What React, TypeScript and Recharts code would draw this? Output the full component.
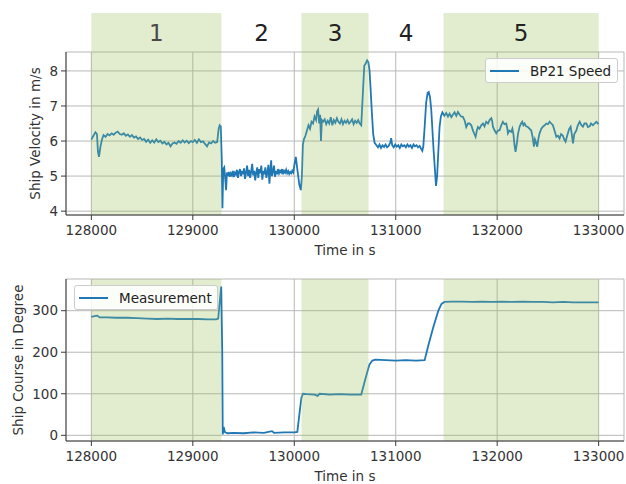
import React from 'react';
import {
  LineChart, Line, XAxis, YAxis, CartesianGrid, ReferenceArea, Legend,
} from 'recharts';

// ---- Data: ship velocity (time in s, m/s) ----
const velPhase1: [number, number][] = [
  [128000, 6.04], [128020, 6.15], [128040, 6.25], [128055, 6.2], [128065, 5.7], [128075, 5.55],
  [128090, 5.85], [128105, 6.05], [128120, 6.17], [128140, 6.12], [128160, 6.2], [128180, 6.16],
  [128200, 6.22], [128220, 6.18], [128240, 6.24], [128260, 6.27], [128280, 6.2], [128300, 6.18],
  [128320, 6.22], [128340, 6.15], [128360, 6.19], [128380, 6.12], [128400, 6.17], [128420, 6.1],
  [128440, 6.13], [128460, 6.06], [128480, 6.1], [128500, 6.03], [128520, 6.06], [128540, 5.98],
  [128560, 6.04], [128580, 5.95], [128600, 6.02], [128620, 5.96], [128640, 6.05], [128660, 5.97],
  [128680, 6.01], [128700, 5.93], [128720, 5.98], [128740, 5.9], [128760, 5.95], [128780, 5.85],
  [128800, 5.93], [128820, 5.96], [128840, 5.92], [128860, 6.0], [128880, 5.95], [128900, 6.02],
  [128920, 5.96], [128940, 6.01], [128960, 5.94], [128980, 6.0], [129000, 5.97], [129020, 6.03],
  [129040, 5.95], [129060, 6.05], [129080, 5.97], [129100, 5.99], [129120, 5.92], [129140, 5.85],
  [129160, 5.96], [129180, 5.93], [129200, 6.0], [129220, 5.95], [129240, 5.97], [129255, 6.35],
  [129265, 6.45], [129275, 6.42], [129285, 5.5], [129292, 4.08],
];
const velPhase2: [number, number][] = [
  [129300, 5.2], [129310, 5.25], [129320, 4.9], [129328, 4.6], [129336, 5.1], [129345, 5.0],
  [129355, 5.12], [129365, 4.98], [129375, 5.08], [129385, 5.02], [129395, 5.15], [129405, 4.97],
  [129415, 5.1], [129425, 5.05], [129435, 5.18], [129445, 4.95], [129455, 5.12], [129465, 5.2],
  [129475, 5.0], [129485, 5.15], [129495, 5.05], [129505, 5.22], [129515, 4.92], [129525, 5.1],
  [129535, 5.3], [129545, 5.0], [129555, 5.18], [129565, 4.95], [129575, 5.12], [129585, 5.35],
  [129595, 5.02], [129605, 5.15], [129615, 4.88], [129625, 5.1], [129635, 5.25], [129645, 4.95],
  [129655, 5.2], [129665, 5.08], [129675, 5.3], [129685, 4.9], [129695, 5.15], [129705, 5.05],
  [129715, 5.25], [129725, 4.95], [129735, 5.1], [129745, 5.32], [129755, 4.78], [129765, 5.2],
  [129772, 5.45], [129780, 5.0], [129790, 5.12], [129800, 5.3], [129810, 4.98], [129820, 5.15],
  [129830, 5.05], [129840, 5.2], [129850, 5.08], [129860, 5.15], [129870, 5.1], [129880, 5.2],
  [129890, 5.05], [129900, 5.15], [129910, 5.1], [129920, 5.18], [129930, 5.08], [129940, 5.14],
  [129950, 5.06], [129960, 5.12], [129970, 5.08], [129980, 5.15], [129990, 5.1], [130000, 5.3],
  [130015, 5.55], [130030, 5.2], [130050, 4.75], [130065, 4.6],
];
const velPhase3: [number, number][] = [
  [130075, 5.0], [130085, 5.9], [130095, 6.05], [130110, 6.15], [130125, 6.3], [130140, 6.45],
  [130155, 6.35], [130170, 6.55], [130185, 6.5], [130200, 6.7], [130215, 6.6], [130225, 6.85],
  [130235, 6.9], [130245, 6.5], [130255, 6.75], [130263, 6.0], [130272, 6.6], [130285, 6.55],
  [130300, 6.62], [130315, 6.48], [130330, 6.58], [130345, 6.5], [130360, 6.68], [130375, 6.45],
  [130390, 6.6], [130405, 6.52], [130420, 6.65], [130435, 6.55], [130450, 6.5], [130465, 6.62],
  [130480, 6.48], [130495, 6.58], [130510, 6.52], [130525, 6.6], [130540, 6.5], [130555, 6.55],
  [130570, 6.62], [130585, 6.48], [130600, 6.58], [130615, 6.52], [130630, 6.6], [130645, 6.5],
  [130660, 6.45], [130675, 7.3], [130690, 8.15], [130705, 8.22], [130718, 8.3], [130730, 8.25],
];
const velPhase4: [number, number][] = [
  [130742, 8.0], [130752, 7.5], [130765, 6.8], [130778, 6.2], [130792, 5.95], [130810, 5.88],
  [130825, 5.82], [130840, 5.9], [130855, 5.8], [130870, 5.88], [130885, 5.83], [130900, 5.9],
  [130915, 5.82], [130930, 5.86], [130945, 5.95], [130955, 6.08], [130965, 5.88], [130980, 5.82],
  [130995, 5.9], [131010, 5.84], [131025, 5.88], [131040, 5.8], [131055, 5.9], [131070, 5.85],
  [131085, 5.88], [131100, 5.82], [131115, 5.9], [131130, 5.84], [131145, 5.88], [131160, 5.8],
  [131175, 5.9], [131190, 5.85], [131205, 5.88], [131220, 5.82], [131235, 5.86], [131250, 5.78],
  [131262, 5.72], [131272, 5.85], [131285, 6.4], [131300, 7.1], [131315, 7.38], [131325, 7.4],
  [131338, 7.25], [131350, 6.9], [131362, 6.3], [131374, 5.7], [131386, 5.2], [131397, 4.72],
  [131408, 5.0], [131420, 5.7], [131432, 6.4], [131445, 6.7], [131460, 6.82],
];
const velPhase5: [number, number][] = [
  [131480, 6.72], [131498, 6.8], [131515, 6.7], [131531, 6.78], [131548, 6.68], [131563, 6.75],
  [131580, 6.82], [131597, 6.72], [131613, 6.83], [131630, 6.75], [131645, 6.7], [131662, 6.69],
  [131680, 6.58], [131695, 6.4], [131712, 6.5], [131728, 6.5], [131745, 6.45], [131760, 6.31],
  [131775, 6.2], [131787, 6.12], [131800, 6.3], [131810, 6.4], [131825, 6.35], [131843, 6.45],
  [131860, 6.5], [131875, 6.42], [131892, 6.55], [131910, 6.5], [131925, 6.6], [131942, 6.65],
  [131950, 6.58], [131958, 6.41], [131975, 6.3], [131991, 6.22], [132008, 6.3], [132024, 6.31],
  [132040, 6.45], [132056, 6.55], [132072, 6.48], [132089, 6.5], [132100, 6.35], [132106, 6.22],
  [132120, 6.3], [132139, 6.26], [132150, 6.35], [132160, 6.2], [132170, 5.9], [132181, 5.69],
  [132194, 5.93], [132205, 6.2], [132221, 6.41], [132235, 6.5], [132247, 6.55], [132258, 6.45],
  [132270, 6.5], [132285, 6.42], [132303, 6.4], [132320, 6.35], [132336, 6.3], [132350, 6.1],
  [132362, 5.84], [132372, 6.05], [132379, 6.0], [132388, 5.9], [132395, 5.84], [132405, 6.05],
  [132418, 6.22], [132435, 6.35], [132451, 6.41], [132468, 6.45], [132484, 6.5], [132500, 6.48],
  [132517, 6.55], [132533, 6.5], [132549, 6.45], [132565, 6.3], [132583, 6.12], [132600, 6.15],
  [132615, 6.07], [132630, 6.2], [132648, 6.15], [132660, 6.05], [132674, 5.98], [132685, 6.1],
  [132697, 6.22], [132710, 6.35], [132724, 6.41], [132735, 6.2], [132747, 5.93], [132760, 6.2],
  [132780, 6.3], [132795, 6.45], [132813, 6.55], [132830, 6.45], [132845, 6.41], [132860, 6.5],
  [132879, 6.5], [132895, 6.4], [132911, 6.42], [132925, 6.5], [132944, 6.45], [132960, 6.5],
  [132977, 6.55], [133000, 6.48],
];

// ---- Data: ship course (time in s, degree) ----
const courseSeries: [number, number][] = [
  [128000, 285], [128030, 287], [128060, 288], [128080, 284], [128150, 284], [128250, 283],
  [128350, 283], [128450, 282], [128550, 281], [128650, 280], [128750, 281], [128850, 280],
  [128950, 280], [129050, 280], [129150, 279], [129230, 279], [129250, 281], [129265, 320],
  [129280, 358], [129290, 200], [129295, 2], [129305, 20], [129315, 8], [129340, 5],
  [129400, 6], [129500, 5], [129600, 7], [129700, 6], [129780, 10], [129800, 6], [129900, 7],
  [130000, 7], [130030, 8], [130055, 60], [130070, 90], [130085, 100], [130120, 99],
  [130200, 98], [130230, 95], [130250, 100], [130350, 98], [130450, 99], [130550, 98],
  [130660, 98], [130700, 135], [130740, 170], [130770, 180], [130800, 182], [130900, 181],
  [131000, 180], [131100, 181], [131200, 180], [131285, 181], [131320, 215], [131370, 260],
  [131420, 300], [131450, 316], [131480, 321], [131550, 322], [131650, 322], [131750, 321],
  [131850, 322], [131950, 321], [132050, 322], [132150, 321], [132250, 322], [132350, 321],
  [132450, 321], [132550, 320], [132650, 321], [132750, 320], [132850, 320], [132950, 320],
  [133000, 320],
];

// ---- Phases (start, end, label) ----
const phaseLabels = ['1', '2', '3', '4', '5'];
const phaseBounds: [number, number][] = [
  [128000, 129282], [129282, 130071], [130071, 130732], [130732, 131471], [131471, 133000],
];
const shadedPhases = [0, 2, 4];

const timeTicks = [128000, 129000, 130000, 131000, 132000, 133000];
const velTicks = [4, 5, 6, 7, 8];
const courseTicks = [0, 100, 200, 300];
const timeDomain: [number, number] = [127750, 133250];
const velDomain: [number, number] = [3.89, 8.54];
const courseDomain: [number, number] = [-13.7, 376.3];

const velData = [...velPhase1, ...velPhase2, ...velPhase3, ...velPhase4, ...velPhase5].map(
  ([t, v]) => ({ t, v })
);
const courseData = courseSeries.map(([t, c]) => ({ t, c }));

const BLUE = '#1f77b4';
const TEAL = '#3d8aa3';
const BAND = '#94bc51';
const BAND_OPACITY = 0.27;
const FRAME = '#3a3a3a';
const GRID = '#b8b8b8';
const TEXT = '#333';
const FONT = "'DejaVu Sans', sans-serif";

const tickStyle = { fontSize: 13.5, fill: TEXT, fontFamily: FONT };

// Gradient stops that tint the line where a shaded phase lies over it
// (fractions measured along the data's own time extent).
const gradientStops = (data: { t: number }[]) => {
  const t0 = data[0].t;
  const t1 = data[data.length - 1].t;
  const stops: { offset: number; color: string }[] = [];
  phaseBounds.forEach(([a, b], i) => {
    const color = shadedPhases.includes(i) ? TEAL : BLUE;
    stops.push({ offset: (a - t0) / (t1 - t0), color });
    stops.push({ offset: (b - t0) / (t1 - t0), color });
  });
  return stops;
};

const LineGradient = ({ id, data }: { id: string; data: { t: number }[] }) => (
  <defs>
    <linearGradient id={id} x1="0" y1="0" x2="1" y2="0">
      {gradientStops(data).map((s, i) => (
        <stop key={i} offset={Math.max(0, Math.min(1, s.offset))} stopColor={s.color} />
      ))}
    </linearGradient>
  </defs>
);

const yLabel = (text: string, cx: number) => (props: any) => {
  const vb = props.viewBox || {};
  const cy = vb.y + vb.height / 2;
  return (
    <text
      x={cx}
      y={cy}
      transform={`rotate(-90 ${cx} ${cy})`}
      textAnchor="middle"
      dominantBaseline="central"
      fontSize={13.5}
      fill={TEXT}
      fontFamily={FONT}
    >
      {text}
    </text>
  );
};

const xLabel = (text: string) => (props: any) => {
  const vb = props.viewBox || {};
  return (
    <text
      x={vb.x + vb.width / 2}
      y={vb.y + 40}
      textAnchor="middle"
      fontSize={13.5}
      fill={TEXT}
      fontFamily={FONT}
    >
      {text}
    </text>
  );
};

const legendContent = (sampleLeft: number, gap: number) => (props: any) => {
  const item = (props.payload || [])[0] || {};
  const c = typeof item.color === 'string' && !item.color.startsWith('url') ? item.color : BLUE;
  return (
    <div
      style={{
        boxSizing: 'border-box',
        width: '100%',
        height: '100%',
        border: '1px solid #cccccc',
        borderRadius: 3,
        background: 'rgba(255,255,255,0.85)',
        display: 'flex',
        alignItems: 'center',
        fontFamily: FONT,
        fontSize: 13.5,
        color: '#222',
        whiteSpace: 'nowrap',
      }}
    >
      <span
        style={{
          display: 'inline-block',
          width: 29,
          height: 0,
          borderTop: `2px solid ${c}`,
          marginLeft: sampleLeft,
          marginRight: gap,
        }}
      />
      <span>{item.value}</span>
    </div>
  );
};

const tallBand = (extra: number) => (props: any) => (
  <rect
    x={props.x}
    y={props.y - extra}
    width={props.width}
    height={props.height + extra}
    fill={BAND}
    fillOpacity={BAND_OPACITY}
    stroke="none"
  />
);

export default function App() {
  return (
    <div
      style={{
        position: 'absolute',
        left: 0,
        top: 0,
        width: 626,
        height: 484,
        background: '#fff',
        fontFamily: FONT,
      }}
    >
      <div style={{ position: 'absolute', left: 0, top: 0 }}>
        <LineChart
          width={626}
          height={260}
          data={velData}
          margin={{ top: 52, right: 2, bottom: 0, left: 0 }}
        >
          <LineGradient id="velGrad" data={velData} />
          <CartesianGrid stroke={GRID} strokeWidth={1} />
          {phaseBounds.map(([a, b], i) => (
            <ReferenceArea
              key={`vb${i}`}
              x1={a}
              x2={b}
              ifOverflow="visible"
              shape={shadedPhases.includes(i) ? tallBand(39) : () => <g />}
              label={{
                value: phaseLabels[i],
                position: 'top',
                offset: 11,
                fontSize: 23,
                fill: i === 0 ? '#4a4a4a' : '#222',
                fontFamily: FONT,
              }}
            />
          ))}
          <XAxis
            dataKey="t"
            type="number"
            domain={timeDomain}
            ticks={timeTicks}
            allowDataOverflow
            height={45}
            tick={tickStyle}
            tickSize={5}
            tickMargin={5}
            tickLine={{ stroke: FRAME }}
            axisLine={{ stroke: FRAME }}
            label={{ content: xLabel('Time in s') } as any}
          />
          <XAxis
            xAxisId="top"
            dataKey="t"
            type="number"
            orientation="top"
            domain={timeDomain}
            allowDataOverflow
            height={0}
            tick={false}
            tickLine={false}
            axisLine={{ stroke: FRAME }}
          />
          <YAxis
            type="number"
            domain={velDomain}
            ticks={velTicks}
            allowDataOverflow
            width={66}
            tick={tickStyle}
            tickSize={5}
            tickMargin={3}
            tickLine={{ stroke: FRAME }}
            axisLine={{ stroke: FRAME }}
            label={{ content: yLabel('Ship Velocity in m/s', 35) } as any}
          />
          <YAxis
            yAxisId="right"
            orientation="right"
            type="number"
            domain={velDomain}
            allowDataOverflow
            width={0}
            tick={false}
            tickLine={false}
            axisLine={{ stroke: FRAME }}
          />
          <Line
            type="linear"
            dataKey="v"
            name="BP21 Speed"
            stroke="url(#velGrad)"
            strokeWidth={1.8}
            dot={false}
            isAnimationActive={false}
          />
          <Legend
            layout="vertical"
            verticalAlign="middle"
            align="center"
            wrapperStyle={{ top: 58, left: 485, width: 133, height: 25 }}
            content={legendContent(4, 11)}
          />
        </LineChart>
      </div>

      <div style={{ position: 'absolute', left: 0, top: 260 }}>
        <LineChart
          width={626}
          height={224}
          data={courseData}
          margin={{ top: 19, right: 2, bottom: 0, left: 0 }}
        >
          <LineGradient id="courseGrad" data={courseData} />
          <CartesianGrid stroke={GRID} strokeWidth={1} />
          {shadedPhases.map((i) => (
            <ReferenceArea
              key={`cb${i}`}
              x1={phaseBounds[i][0]}
              x2={phaseBounds[i][1]}
              ifOverflow="visible"
              fill={BAND}
              fillOpacity={BAND_OPACITY}
              stroke="none"
            />
          ))}
          <XAxis
            dataKey="t"
            type="number"
            domain={timeDomain}
            ticks={timeTicks}
            allowDataOverflow
            height={43}
            tick={tickStyle}
            tickSize={5}
            tickMargin={5}
            tickLine={{ stroke: FRAME }}
            axisLine={{ stroke: FRAME }}
            label={{ content: xLabel('Time in s') } as any}
          />
          <XAxis
            xAxisId="top"
            dataKey="t"
            type="number"
            orientation="top"
            domain={timeDomain}
            allowDataOverflow
            height={0}
            tick={false}
            tickLine={false}
            axisLine={{ stroke: FRAME }}
          />
          <YAxis
            type="number"
            domain={courseDomain}
            ticks={courseTicks}
            allowDataOverflow
            width={66}
            tick={tickStyle}
            tickSize={5}
            tickMargin={3}
            tickLine={{ stroke: FRAME }}
            axisLine={{ stroke: FRAME }}
            label={{ content: yLabel('Ship Course in Degree', 18) } as any}
          />
          <YAxis
            yAxisId="right"
            orientation="right"
            type="number"
            domain={courseDomain}
            allowDataOverflow
            width={0}
            tick={false}
            tickLine={false}
            axisLine={{ stroke: FRAME }}
          />
          <Line
            type="linear"
            dataKey="c"
            name="Measurement"
            stroke="url(#courseGrad)"
            strokeWidth={1.8}
            dot={false}
            isAnimationActive={false}
          />
          <Legend
            layout="vertical"
            verticalAlign="middle"
            align="center"
            wrapperStyle={{ top: 25, left: 74, width: 144, height: 25 }}
            content={legendContent(4, 11)}
          />
        </LineChart>
      </div>
    </div>
  );
}
